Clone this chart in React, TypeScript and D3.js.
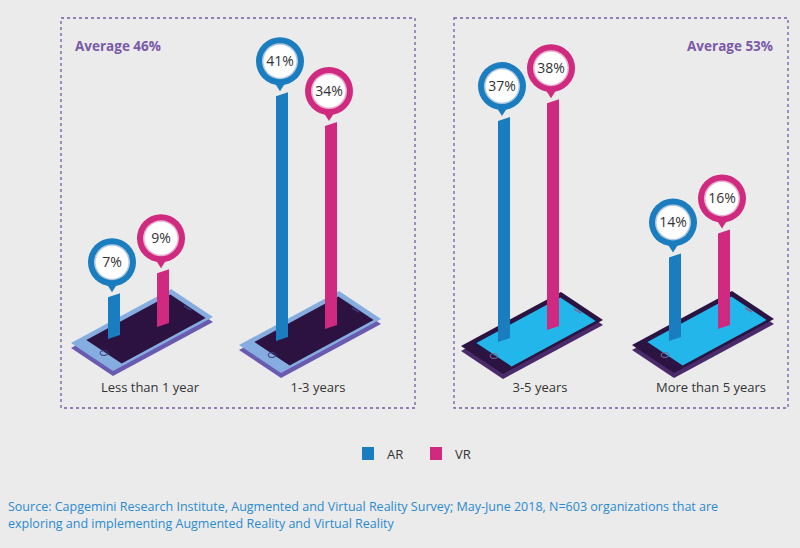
import * as d3 from "d3";

const categories = ["Less than 1 year", "1-3 years", "3-5 years", "More than 5 years"];
const arValues = [7, 41, 37, 14];
const vrValues = [9, 34, 38, 16];
const groups = ["Average 46%", "Average 53%"];
const legendItems = ["AR", "VR"];

const AR = "#1a7dbf";
const VR = "#cf2a80";
const PURPLE = "#7a5aa8";

// phone centers (layout)
const phoneCenters: [number, number][] = [
  [142, 330],
  [310, 332],
  [532, 333],
  [703, 332],
];

const h = d3.scaleLinear().domain([0, 100]).range([0, 597]);

const u = [100, -54];
const v = [42, 28];

function phonePts(cx: number, cy: number, su: number, sv: number, dy = 0) {
  const a = su / 2;
  const b = sv / 2;
  const p = (x: number, y: number) => `${cx + x},${cy + y + dy}`;
  return [
    p(-u[0] * a - v[0] * b, -u[1] * a - v[1] * b),
    p(u[0] * a - v[0] * b, u[1] * a - v[1] * b),
    p(u[0] * a + v[0] * b, u[1] * a + v[1] * b),
    p(-u[0] * a + v[0] * b, -u[1] * a + v[1] * b),
  ].join(" ");
}

function Pin({ x, bottom, value, color }: { x: number; bottom: number; value: number; color: string }) {
  const w = 12;
  const top = bottom - h(value);
  const cx = x + w / 2 - 2;
  const cy = top - 35;
  return (
    <g>
      <polygon
        points={`${x},${bottom} ${x + w},${bottom - 4} ${x + w},${top - 4} ${x},${top}`}
        fill={color}
      />
      <polygon points={`${cx - 7},${cy + 19} ${cx + 7},${cy + 19} ${cx},${cy + 30}`} fill={color} />
      <circle cx={cx} cy={cy} r={24} fill={color} />
      <circle cx={cx} cy={cy} r={18} fill="#f4e9f0" opacity={0.7} />
      <circle cx={cx} cy={cy} r={16.5} fill="#ffffff" />
      <text x={cx} y={cy + 5} textAnchor="middle" fontSize={14} fill="#333">
        {value}%
      </text>
    </g>
  );
}

export default function App() {
  return (
    <svg width={800} height={548} style={{ position: "absolute", left: 0, top: 0, fontFamily: "'Open Sans', sans-serif" }}>
      <rect width={800} height={548} fill="#ebebeb" />
      <rect x={61} y={18} width={354} height={390} fill="none" stroke={PURPLE} strokeDasharray="3,3" strokeWidth={1.3} />
      <rect x={454} y={18} width={334} height={390} fill="none" stroke={PURPLE} strokeDasharray="3,3" strokeWidth={1.3} />
      <text x={75} y={51} fontSize={13.5} fontWeight="bold" fill={PURPLE}>{groups[0]}</text>
      <text x={773} y={51} textAnchor="end" fontSize={13.5} fontWeight="bold" fill={PURPLE}>{groups[1]}</text>
      {categories.map((c, i) => {
        const [cx, cy] = phoneCenters[i];
        const dark = i >= 2;
        const body = dark ? "#2b1342" : "#86ade0";
        const rim = dark ? "#4a2a6a" : "#6a5bb0";
        const screen = dark ? "#22b6ea" : "#2c1240";
        return (
          <g key={c}>
            <polygon points={phonePts(cx, cy, 1, 1, 5)} fill={rim} />
            <polygon points={phonePts(cx, cy, 1, 1)} fill={body} />
            <polygon points={phonePts(cx + 4, cy - 1, 0.84, 0.84)} fill={screen} />
            <ellipse cx={cx - 38} cy={cy + 23} rx={4} ry={2.5} fill="none" stroke={dark ? "#7a6a9a" : "#3b3b7a"} strokeWidth={1} />
            <line x1={cx + 42} y1={cy - 24} x2={cx + 49} y2={cy - 20} stroke={dark ? "#7a6a9a" : "#3b3b7a"} strokeWidth={1.5} />
            <Pin x={cx - 34} bottom={cy + 9} value={arValues[i]} color={AR} />
            <Pin x={cx + 15} bottom={cy - 3} value={vrValues[i]} color={VR} />
            <text x={cx + 8} y={392} textAnchor="middle" fontSize={13} fill="#333">{c}</text>
          </g>
        );
      })}
      {legendItems.map((l, i) => (
        <g key={l}>
          <rect x={362 + i * 68} y={447} width={12} height={13} fill={i === 0 ? AR : VR} />
          <text x={387 + i * 68} y={459} fontSize={13} fill="#333">{l}</text>
        </g>
      ))}
      <text x={8} y={511} fontSize={12.5} fill="#2a8ad0">
        Source: Capgemini Research Institute, Augmented and Virtual Reality Survey; May-June 2018, N=603 organizations that are
      </text>
      <text x={8} y={528} fontSize={12.5} fill="#2a8ad0">
        exploring and implementing Augmented Reality and Virtual Reality
      </text>
    </svg>
  );
}
